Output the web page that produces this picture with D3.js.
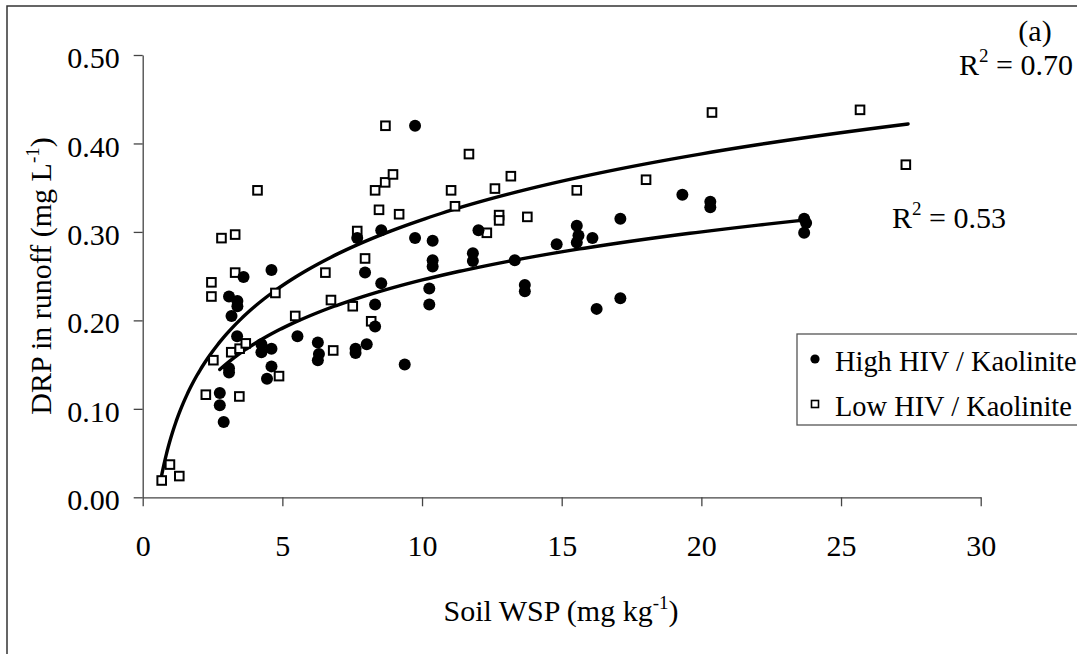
<!DOCTYPE html>
<html>
<head>
<meta charset="utf-8">
<script src="https://cdn.jsdelivr.net/npm/d3@7"></script>
<style>
  html, body { margin: 0; padding: 0; background: #fff; }
  svg { display: block; }
  text { font-family: "Liberation Serif", "Times New Roman", serif; fill: #000; }
</style>
</head>
<body>
<svg id="chart" width="1077" height="654"></svg>
<script>
// ---- Data ----
const highX = [2.76, 2.76, 2.90, 3.09, 3.09, 3.09, 3.18, 3.39, 3.39, 3.38, 3.61, 4.25, 4.25, 4.45, 4.61, 4.61, 4.61,
  5.54, 6.27, 6.31, 6.27, 7.62, 7.62, 7.68, 7.96, 8.02, 8.32, 8.32, 8.54, 8.54, 9.38, 9.75, 9.75,
  10.26, 10.26, 10.38, 10.38, 10.38, 11.82, 11.82, 12.02, 13.32, 13.68, 13.68, 14.82, 15.54, 15.60, 15.54,
  16.10, 16.25, 17.10, 17.10, 19.32, 20.32, 20.32, 23.68, 23.75, 23.68];
const highY = [0.118, 0.104, 0.085, 0.146, 0.141, 0.227, 0.205, 0.222, 0.216, 0.182, 0.249, 0.173, 0.164, 0.134, 0.168, 0.148, 0.257,
  0.182, 0.175, 0.162, 0.155, 0.168, 0.163, 0.293, 0.254, 0.173, 0.218, 0.193, 0.242, 0.302, 0.150, 0.420, 0.293,
  0.236, 0.218, 0.290, 0.268, 0.261, 0.276, 0.267, 0.302, 0.268, 0.240, 0.233, 0.286, 0.307, 0.296, 0.288,
  0.293, 0.213, 0.315, 0.225, 0.342, 0.334, 0.328, 0.315, 0.310, 0.299];

const lowX = [0.68, 0.975, 1.31, 2.26, 2.46, 2.46, 2.53, 2.82, 3.17, 3.31, 3.31, 3.46, 3.47, 3.69, 4.11, 4.75, 4.88,
  5.46, 6.54, 6.74, 6.82, 7.52, 7.68, 7.96, 8.18, 8.32, 8.46, 8.68, 8.69, 8.96, 9.18,
  11.04, 11.18, 11.68, 12.32, 12.61, 12.76, 12.76, 13.18, 13.77, 15.54, 18.02, 20.38, 25.68, 27.32];
const lowY = [0.019, 0.037, 0.024, 0.116, 0.243, 0.227, 0.155, 0.293, 0.164, 0.297, 0.254, 0.114, 0.168, 0.174, 0.347, 0.231, 0.137,
  0.205, 0.254, 0.223, 0.166, 0.216, 0.301, 0.270, 0.199, 0.347, 0.325, 0.356, 0.420, 0.365, 0.320,
  0.347, 0.329, 0.388, 0.299, 0.349, 0.319, 0.313, 0.363, 0.317, 0.347, 0.359, 0.435, 0.438, 0.376];

// Logarithmic trendlines y = a*ln(x) + b, with x range [from, to]
const trendHigh = { a: 0.0786, b: 0.0646, from: 2.76, to: 23.5, r2: "0.53" };
const trendLow  = { a: 0.1074, b: 0.0665, from: 0.68, to: 27.4, r2: "0.70" };

const xTicks = [0, 5, 10, 15, 20, 25, 30];
const yTicks = [0, 0.1, 0.2, 0.3, 0.4, 0.5];
const legendLabels = ["High HIV / Kaolinite", "Low HIV / Kaolinite"];

// ---- Drawing ----
const FS = "30px", SUP = "19px";
const svg = d3.select("#chart");
const mLeft = 142.7, mRight = 980.7, mTop = 55, mBottom = 497.3;
const x = d3.scaleLinear().domain([0, 30]).range([mLeft, mRight]);
const y = d3.scaleLinear().domain([0, 0.5]).range([mBottom, mTop]);

// outer frame (cropped at right/bottom)
svg.append("rect").attr("x", 7).attr("y", 6).attr("width", 1200).attr("height", 800)
  .attr("fill", "none").attr("stroke", "#333").attr("stroke-width", 1.5);

const axisColor = "#444";
const xAxis = svg.append("g").attr("transform", `translate(0,${mBottom})`)
  .call(d3.axisBottom(x).tickValues(xTicks).tickSize(9).tickSizeOuter(0).tickFormat(d3.format("d")));
xAxis.selectAll("text").attr("y", 59).attr("dy", 0).style("font-size", FS)
  .style("font-family", "'Liberation Serif', serif");

const yAxis = svg.append("g").attr("transform", `translate(${mLeft},0)`)
  .call(d3.axisLeft(y).tickValues(yTicks).tickSize(9).tickSizeOuter(0).tickFormat(d3.format(".2f")));
yAxis.selectAll("text").attr("x", -23).attr("dy", "0.42em").style("font-size", FS)
  .style("font-family", "'Liberation Serif', serif");

[xAxis, yAxis].forEach(g => {
  g.selectAll("path.domain").attr("stroke", axisColor).attr("stroke-width", 1.3);
  g.selectAll(".tick line").attr("stroke", axisColor).attr("stroke-width", 1.3);
  g.selectAll("text").attr("fill", "#000");
});

// trendlines
function trendPts(t) {
  const n = 200, pts = [];
  for (let i = 0; i <= n; i++) {
    const xv = t.from * Math.pow(t.to / t.from, i / n);
    pts.push([xv, t.a * Math.log(xv) + t.b]);
  }
  return pts;
}
const line = d3.line().x(d => x(d[0])).y(d => y(d[1]));
[trendLow, trendHigh].forEach(t => {
  svg.append("path").attr("d", line(trendPts(t)))
    .attr("fill", "none").attr("stroke", "#000").attr("stroke-width", 3.4)
    .attr("stroke-linejoin", "round").attr("stroke-linecap", "round");
});

// points: squares (Low HIV)
const sq = 8.6;
svg.append("g").selectAll("rect").data(lowX.map((v, i) => [v, lowY[i]])).join("rect")
  .attr("x", d => x(d[0]) - sq / 2).attr("y", d => y(d[1]) - sq / 2)
  .attr("width", sq).attr("height", sq)
  .attr("fill", "#fff").attr("stroke", "#000").attr("stroke-width", 2);

// points: filled circles (High HIV)
svg.append("g").selectAll("circle").data(highX.map((v, i) => [v, highY[i]])).join("circle")
  .attr("cx", d => x(d[0])).attr("cy", d => y(d[1])).attr("r", 6).attr("fill", "#000");

// R^2 annotations
function r2Label(xp, yp, val) {
  const t = svg.append("text").attr("x", xp).attr("y", yp).style("font-size", FS);
  t.append("tspan").text("R");
  t.append("tspan").attr("dy", -13).style("font-size", SUP).text("2");
  t.append("tspan").attr("dy", 13).text(" = " + val);
}
r2Label(959, 75, trendLow.r2);
r2Label(892, 228, trendHigh.r2);

// panel label
svg.append("text").attr("x", 1035).attr("y", 41).attr("text-anchor", "middle")
  .style("font-size", FS).text("(a)");

// axis titles
const xt = svg.append("text").attr("x", 561).attr("y", 621).attr("text-anchor", "middle").style("font-size", FS);
xt.append("tspan").text("Soil WSP (mg kg");
xt.append("tspan").attr("dy", -12).style("font-size", SUP).text("-1");
xt.append("tspan").attr("dy", 12).text(")");

const yt = svg.append("text").attr("transform", `translate(51,276) rotate(-90)`)
  .attr("text-anchor", "middle").style("font-size", FS);
yt.append("tspan").text("DRP in runoff (mg L");
yt.append("tspan").attr("dy", -12).style("font-size", SUP).text("-1");
yt.append("tspan").attr("dy", 12).text(")");

// legend (its box runs past the right edge, as in the reference)
const lg = svg.append("g");
lg.append("rect").attr("x", 797).attr("y", 334).attr("width", 400).attr("height", 91)
  .attr("fill", "#fff").attr("stroke", "#555").attr("stroke-width", 1.3);
lg.append("circle").attr("cx", 815).attr("cy", 359).attr("r", 4.6).attr("fill", "#000");
lg.append("rect").attr("x", 811.5).attr("y", 400.5).attr("width", 7).attr("height", 7)
  .attr("fill", "#fff").attr("stroke", "#000").attr("stroke-width", 1.6);
lg.append("text").attr("x", 835).attr("y", 370.7).style("font-size", "28.4px").text(legendLabels[0]);
lg.append("text").attr("x", 835).attr("y", 415.7).style("font-size", "28.4px").text(legendLabels[1]);
</script>
</body>
</html>
